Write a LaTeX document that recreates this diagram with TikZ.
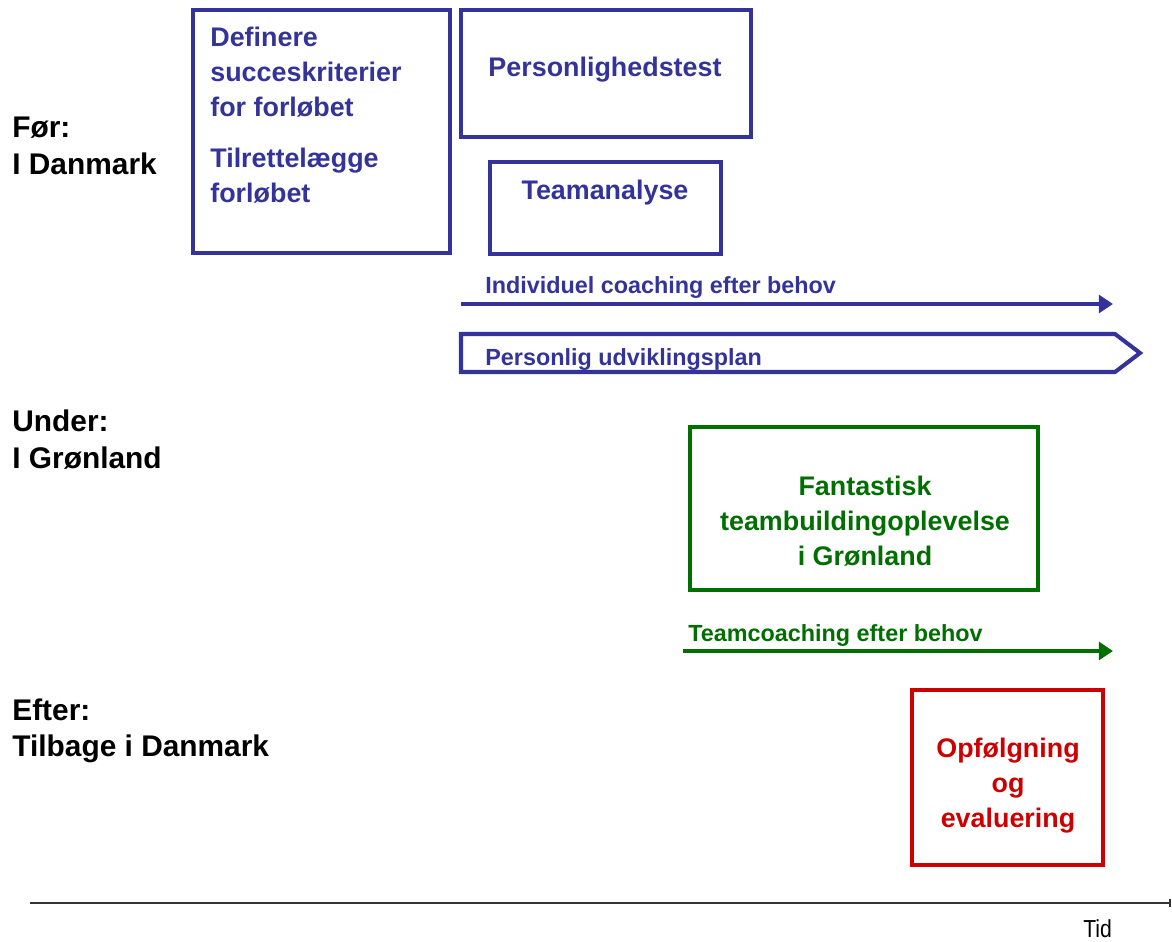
\documentclass[tikz,border=0pt]{standalone}
\usepackage{fontspec}
\setmainfont{Liberation Sans}
\usetikzlibrary{arrows.meta}
\definecolor{plblue}{RGB}{51,51,153}
\definecolor{plgreen}{RGB}{0,110,0}
\definecolor{plred}{RGB}{204,0,0}

\begin{document}
\begin{tikzpicture}[x=0.02cm, y=-0.02cm,
		fase/.style={font=\fontsize{17}{21}\selectfont\bfseries, align=left, anchor=north west, inner sep=0},
		boks/.style={line width=2.6pt},
		boxtxt/.style={font=\fontsize{15.3}{19.8}\selectfont\bfseries, inner sep=0, anchor=north},
		pil/.style={line width=2.4pt, -{Triangle[length=8pt,width=10pt]}},
		piltxt/.style={font=\fontsize{13.3}{16}\selectfont\bfseries, inner sep=0, anchor=base west}]
	\useasboundingbox (0,0) rectangle (1172,942);
	
	% faser
	\node (foer)  [fase] at (12,117) {Før:\\I Danmark};
	\node (under) [fase] at (12,410) {Under:\\I Grønland};
	\node (efter) [fase] at (12,698) {Efter:\\Tilbage i Danmark};
	
	% foer
	\draw [boks, plblue] (193,10) rectangle (450,253);
	\node (def) [boxtxt, plblue, anchor=north west, align=left] at (210,27) {Definere\\succeskriterier\\for forløbet};
	\node (til) [boxtxt, plblue, anchor=north west, align=left] at (210,148) {Tilrettelægge\\forløbet};
	\draw [boks, plblue] (461,10) rectangle (751,137);
	\node (pers) [boxtxt, plblue, anchor=base] at (605,77) {Personlighedstest};
	\draw [boks, plblue] (490,162) rectangle (721,254);
	\node (team) [boxtxt, plblue, anchor=base] at (605,200) {Teamanalyse};
	
	\coordinate (ic0) at (461,304);
	\coordinate (ic1) at (1113,304);
	\draw [pil, plblue] (ic0) -- (ic1);
	\node (ictxt) [piltxt, plblue] at (485,294) {Individuel coaching efter behov};
	
	\coordinate (pu0) at (461,334);
	\coordinate (pu1) at (1115,334);
	\coordinate (pu2) at (1140,353);
	\coordinate (pu3) at (1115,372);
	\coordinate (pu4) at (461,372);
	\draw [line width=2.3pt, plblue] (pu0)--(pu1)--(pu2)--(pu3)--(pu4)--cycle;
	\node (putxt) [piltxt, plblue] at (485,365) {Personlig udviklingsplan};
	
	% under
	\draw [boks, plgreen] (690,427) rectangle (1038,590);
	\node (fant) [boxtxt, plgreen, align=center] at (865,476) {Fantastisk\\teambuildingoplevelse\\i Grønland};
	
	\coordinate (tc0) at (683,651);
	\coordinate (tc1) at (1113,651);
	\draw [pil, plgreen] (tc0) -- (tc1);
	\node (tctxt) [piltxt, plgreen] at (688,641) {Teamcoaching efter behov};
	
	% efter
	\draw [boks, plred] (912,690) rectangle (1103,865);
	\node (opf) [boxtxt, plred, align=center] at (1008,738) {Opfølgning\\og\\evaluering};
	
	% tid
	\coordinate (t0) at (30,903);
	\coordinate (t1) at (1171,903);
	\draw [line width=1pt, black!80, -{Bar[width=5pt]}] (t0) -- (t1);
	\node (tid) [font=\fontsize{14}{16}\selectfont, inner sep=0, anchor=base west, xscale=0.86, transform shape] at (1083,937) {Tid};
\end{tikzpicture}
\end{document}
